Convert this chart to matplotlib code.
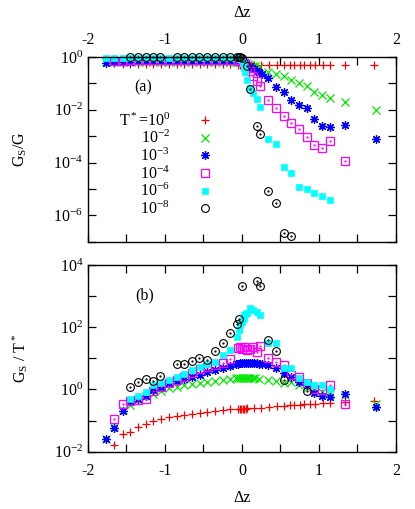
import matplotlib
matplotlib.use("Agg")
import matplotlib.pyplot as plt
from matplotlib.ticker import NullLocator

plt.rcParams['font.family'] = ['Liberation Serif', 'DejaVu Serif']
plt.rcParams['mathtext.fontset'] = 'custom'
plt.rcParams['mathtext.rm'] = 'Liberation Serif'
plt.rcParams['mathtext.it'] = 'Liberation Serif:italic'
plt.rcParams['axes.unicode_minus'] = False
plt.rcParams['font.size'] = 11.5

# ---------------- data ----------------
# T* = 1
dz_red = [-1.66, -1.55, -1.45, -1.35, -1.25, -1.15, -1.05, -0.95, -0.85, -0.75, -0.65, -0.55,
          -0.45, -0.35, -0.25, -0.15, -0.05, -0.03, -0.01, 0.01, 0.03, 0.05, 0.07,
          0.15, 0.25, 0.35, 0.45, 0.55, 0.62, 0.68, 0.75, 0.81, 0.88, 0.95, 1.05, 1.14, 1.34, 1.72]
gsg_red = [0.58, 0.57, 0.57, 0.56, 0.56, 0.56, 0.55, 0.55, 0.55, 0.55, 0.54, 0.54,
           0.54, 0.53, 0.53, 0.53, 0.52, 0.52, 0.52, 0.52, 0.52, 0.52, 0.52,
           0.51, 0.51, 0.51, 0.50, 0.50, 0.50, 0.50, 0.50, 0.50, 0.50, 0.50, 0.50, 0.50, 0.50, 0.50]
gst_red = [0.017, 0.036, 0.042, 0.063, 0.076, 0.098, 0.11, 0.126, 0.138, 0.151, 0.162, 0.178,
           0.19, 0.204, 0.219, 0.229, 0.235, 0.237, 0.239, 0.24, 0.242, 0.244, 0.246,
           0.251, 0.263, 0.275, 0.288, 0.30, 0.309, 0.316, 0.324, 0.331, 0.339, 0.347, 0.355, 0.363, 0.41, 0.44]

# T* = 1e-2
dz_green = [-1.76, -1.66, -1.55, -1.45, -1.35, -1.25, -1.15, -1.05, -0.95, -0.85, -0.75, -0.65,
            -0.55, -0.45, -0.35, -0.25, -0.15,
            -0.08, -0.05, -0.02, 0.0, 0.02, 0.05, 0.08, 0.11, 0.14, 0.17,
            0.22, 0.34, 0.44, 0.54, 0.64, 0.74, 0.84, 0.94, 1.04, 1.14, 1.34, 1.74]
gsg_green = [0.64, 0.64, 0.65, 0.65, 0.65, 0.65, 0.66, 0.66, 0.66, 0.66, 0.66, 0.66,
             0.66, 0.66, 0.66, 0.66, 0.66,
             0.66, 0.66, 0.65, 0.64, 0.62, 0.58, 0.54, 0.50, 0.47, 0.45,
             0.41, 0.275, 0.23, 0.19, 0.14, 0.10, 0.083, 0.049, 0.036, 0.027, 0.020, 0.010]
gst_green = [0.025, 0.063, 0.22, 0.32, 0.46, 0.62, 0.74, 0.89, 1.10, 1.23, 1.38, 1.48,
             1.66, 1.78, 1.91, 2.0, 2.09,
             2.3, 2.35, 2.4, 2.4, 2.42, 2.4, 2.38, 2.35, 2.32, 2.3,
             2.24, 2.04, 1.86, 1.62, 1.78, 1.41, 1.15, 0.93, 0.81, 0.72, 0.66, 0.35]

# T* = 1e-3
dz_blue = [-1.76, -1.66, -1.55, -1.45, -1.35, -1.25, -1.15, -1.05, -0.95, -0.85, -0.75, -0.65,
           -0.55, -0.45, -0.35, -0.25, -0.15,
           -0.08, -0.05, -0.02, 0.0, 0.02, 0.05, 0.08, 0.10, 0.13, 0.16, 0.19, 0.22, 0.26,
           0.34, 0.44, 0.54, 0.64, 0.74, 0.84, 0.94, 1.04, 1.14, 1.34, 1.74]
gsg_blue = [0.62, 0.64, 0.66, 0.67, 0.68, 0.68, 0.68, 0.68, 0.69, 0.69, 0.69, 0.69,
            0.69, 0.69, 0.69, 0.69, 0.69,
            0.68, 0.68, 0.67, 0.65, 0.62, 0.55, 0.49, 0.46, 0.40, 0.35, 0.30, 0.26, 0.22,
            0.155, 0.076, 0.049, 0.0245, 0.0158, 0.012, 0.0044, 0.00245, 0.0023, 0.0026, 0.00076]
gst_blue = [0.025, 0.056, 0.21, 0.44, 0.48, 0.62, 0.95, 1.17, 1.58, 1.91, 2.09, 2.57,
            2.88, 3.7, 4.2, 5.0, 5.6,
            6.5, 6.8, 7.0, 7.1, 7.2, 7.2, 7.1, 7.1, 7.0, 7.0, 6.9, 6.8, 6.6,
            6.0, 4.8, 3.5, 2.5, 1.78, 1.38, 0.78, 0.62, 0.59, 0.71, 0.275]

# T* = 1e-4
dz_pink = [-1.66, -1.55, -1.45, -1.35, -1.25, -1.15, -1.05, -0.95, -0.85, -0.75, -0.65,
           -0.55, -0.45, -0.35, -0.25, -0.15,
           -0.05, -0.02, 0.0, 0.03, 0.06, 0.10, 0.14, 0.19, 0.24,
           0.34, 0.44, 0.54, 0.64, 0.74, 0.84, 0.94, 1.04, 1.14, 1.34]
gsg_pink = [0.72, 0.74, 0.75, 0.76, 0.76, 0.76, 0.77, 0.77, 0.77, 0.77, 0.77,
            0.77, 0.77, 0.77, 0.77, 0.77,
            0.76, 0.74, 0.70, 0.60, 0.46, 0.30, 0.19, 0.12, 0.081,
            0.023, 0.0115, 0.0059, 0.0031, 0.0018, 0.00093, 0.00047, 0.00036, 0.00065, 0.000115]
gst_pink = [0.11, 0.34, 0.42, 0.47, 0.51, 0.91, 1.2, 1.6, 2.0, 2.5, 3.3,
            4.4, 5.4, 6.0, 6.9, 9.3,
            21, 23, 20, 24, 18, 20, 23, 16, 25,
            10, 7.8, 6.0, 2.9, 2.6, 1.58, 1.0, 0.95, 1.38, 0.35]

# T* = 1e-6
dz_cyan = [-1.76, -1.66, -1.55, -1.45, -1.35, -1.25, -1.15, -1.05, -0.95, -0.85, -0.75, -0.65,
           -0.55, -0.45, -0.35, -0.25, -0.15,
           -0.06, -0.04, -0.02, 0.0, 0.01, 0.02, 0.03, 0.04, 0.06, 0.10, 0.14, 0.19, 0.24,
           0.34, 0.44, 0.54, 0.64, 0.74, 0.84, 0.94, 1.04, 1.14]
gsg_cyan = [0.92, 0.93, 0.93, 0.93, 0.94, 0.94, 0.94, 0.94, 0.94, 0.94, 0.94, 0.94,
            0.94, 0.94, 0.94, 0.94, 0.93,
            0.92, 0.90, 0.86, 0.76, 0.62, 0.50, 0.40, 0.28, 0.135, 0.065, 0.042, 0.025, 0.0123,
            0.00076, 0.00049, 7.1e-5, 3.9e-5, 1.23e-5, 9.8e-6, 6.9e-6, 5.6e-6, 3.8e-6]
dz_cyan_b = [-1.45, -1.35, -1.25, -1.15, -1.05, -0.95, -0.85, -0.75, -0.65,
             -0.55, -0.45, -0.35, -0.25, -0.15,
             -0.06, -0.04, -0.02, 0.0, 0.01, 0.02, 0.03, 0.04, 0.06, 0.10, 0.14, 0.19, 0.24,
             0.34, 0.44, 0.54, 0.64, 0.74, 0.84, 0.94, 1.04, 1.14]
gst_cyan = [0.5, 0.6, 0.85, 1.38, 1.6, 2.0, 2.5, 3.2, 4.2,
            5.4, 6.5, 7.8, 12.9, 18.6,
            50, 81, 117, 150, 170, 200, 240, 260, 282, 407, 360, 316, 245,
            32, 32, 4.8, 4.8, 2.3, 1.78, 1.38, 1.38, 1.07]

# T* = 1e-8
dz_black = [-1.45, -1.35, -1.25, -1.16, -1.06, -0.85, -0.75, -0.65, -0.56, -0.46, -0.35, -0.25,
            -0.15, -0.06, -0.04, -0.02, 0.0, 0.06, 0.10, 0.19, 0.24, 0.34, 0.44, 0.54, 0.64]
gsg_black = [1.0, 1.0, 1.0, 1.0, 1.0, 1.0, 1.0, 1.0, 1.0, 1.0, 1.0, 1.0,
             1.0, 1.0, 0.99, 0.97, 0.93, 0.46, 0.06, 0.0025, 0.0012, 8.7e-6, 2.9e-6, 2.2e-7, 1.66e-7]
dz_black_b = [-1.45, -1.35, -1.25, -1.16, -1.06, -0.85, -0.75, -0.65, -0.56, -0.46, -0.35, -0.25,
              -0.15, -0.06, -0.04, 0.0, 0.19, 0.24, 0.34, 0.44, 0.54, 0.84]
gst_black = [1.17, 1.78, 2.1, 1.9, 2.7, 6.5, 6.5, 8.1, 10.5, 8.9, 17, 30,
             66, 126, 178, 2140, 3090, 2140, 39, 17, 2.0, 0.9]

labels = ['T$^*$=10$^0$', '10$^{-2}$', '10$^{-3}$', '10$^{-4}$', '10$^{-6}$', '10$^{-8}$']

top_sets = [(dz_red, gsg_red), (dz_green, gsg_green), (dz_blue, gsg_blue),
            (dz_pink, gsg_pink), (dz_cyan, gsg_cyan), (dz_black, gsg_black)]
bot_sets = [(dz_red, gst_red), (dz_green, gst_green), (dz_blue, gst_blue),
            (dz_pink, gst_pink), (dz_cyan_b, gst_cyan), (dz_black_b, gst_black)]

styles = [
    dict(marker='+', color='#ff0000', ms=6.2, mew=0.9, mfc='none'),
    dict(marker='x', color='#00e600', ms=5.2, mew=0.9, mfc='none'),
    dict(marker=(8, 2, 0), color='#0000ff', ms=6.4, mew=0.9, mfc='none'),
    dict(marker='s', color='#ff00ff', ms=5.6, mew=0.9, mfc='none'),
    dict(marker='s', color='#00ffff', ms=5.0, mew=0.5, mfc='#00ffff'),
    dict(marker='o', color='black', ms=5.6, mew=0.8, mfc='none'),
]
dotted = [False, False, False, True, False, True]

fig = plt.figure(figsize=(4.15, 5.09), dpi=100)
ax1 = fig.add_axes([0.212, 0.525, 0.7422, 0.3629])
ax2 = fig.add_axes([0.212, 0.1126, 0.7422, 0.3668])

handles = []
for (xs, ys), st, dot in zip(top_sets, styles, dotted):
    h, = ax1.plot(xs, ys, ls='none', clip_on=False, **st)
    if dot:
        ax1.plot(xs, ys, ls='none', marker='.', ms=1.2, color=st['color'], clip_on=False)
    handles.append(h)
for (xs, ys), st, dot in zip(bot_sets, styles, dotted):
    ax2.plot(xs, ys, ls='none', clip_on=False, **st)
    if dot:
        ax2.plot(xs, ys, ls='none', marker='.', ms=1.2, color=st['color'], clip_on=False)

xt = [-2, -1.5, -1, -0.5, 0, 0.5, 1, 1.5, 2]
xtl = ['-2', '', '-1', '', '0', '', '1', '', '2']
for ax in (ax1, ax2):
    ax.set_yscale('log')
    ax.set_xlim(-2, 2)
    ax.set_xticks(xt, labels=xtl)
    ax.yaxis.set_minor_locator(NullLocator())
    ax.tick_params(which='both', direction='in', top=True, right=True,
                   length=6, width=0.9, labelsize=11.5)
    ax.tick_params(axis='y', pad=3.5)
    for sp in ax.spines.values():
        sp.set_linewidth(1.0)

ax1.set_ylim(1e-7, 1)
ax1.set_yticks([1e-7, 1e-6, 1e-5, 1e-4, 1e-3, 1e-2, 1e-1, 1],
               labels=['', '10$^{-6}$', '', '10$^{-4}$', '', '10$^{-2}$', '', '10$^{0}$'])
ax1.tick_params(axis='x', labeltop=True, labelbottom=False, pad=6.5)

ax2.set_ylim(1e-2, 1e4)
ax2.set_yticks([1e-2, 1e-1, 1, 1e1, 1e2, 1e3, 1e4],
               labels=['10$^{-2}$', '', '10$^{0}$', '', '10$^{2}$', '', '10$^{4}$'])
ax2.tick_params(axis='x', pad=8)

ax1.legend(handles, labels, loc='upper right', bbox_to_anchor=(0.432, 0.70),
           markerfirst=False, frameon=False, borderpad=0, borderaxespad=0,
           handlelength=2.0, handletextpad=1.2, labelspacing=0.02, fontsize=11.5)

ax1.text(0.179, 0.838, '(a)', transform=ax1.transAxes, ha='center', va='center')
ax2.text(0.185, 0.839, '(b)', transform=ax2.transAxes, ha='center', va='center')

fig.text(20 / 415, 1 - 149 / 509, 'G$_\\mathrm{S}$/G', rotation=90, ha='center', va='center')
fig.text(20 / 415, 1 - 358 / 509, 'G$_\\mathrm{S}$ / T$^*$', rotation=90, ha='center', va='center')
fig.text(242 / 415, 1 - 13 / 509, 'Δz', ha='center', va='center')
fig.text(242 / 415, 1 - 498 / 509, 'Δz', ha='center', va='center')

fig.savefig('out.png', dpi=100)
